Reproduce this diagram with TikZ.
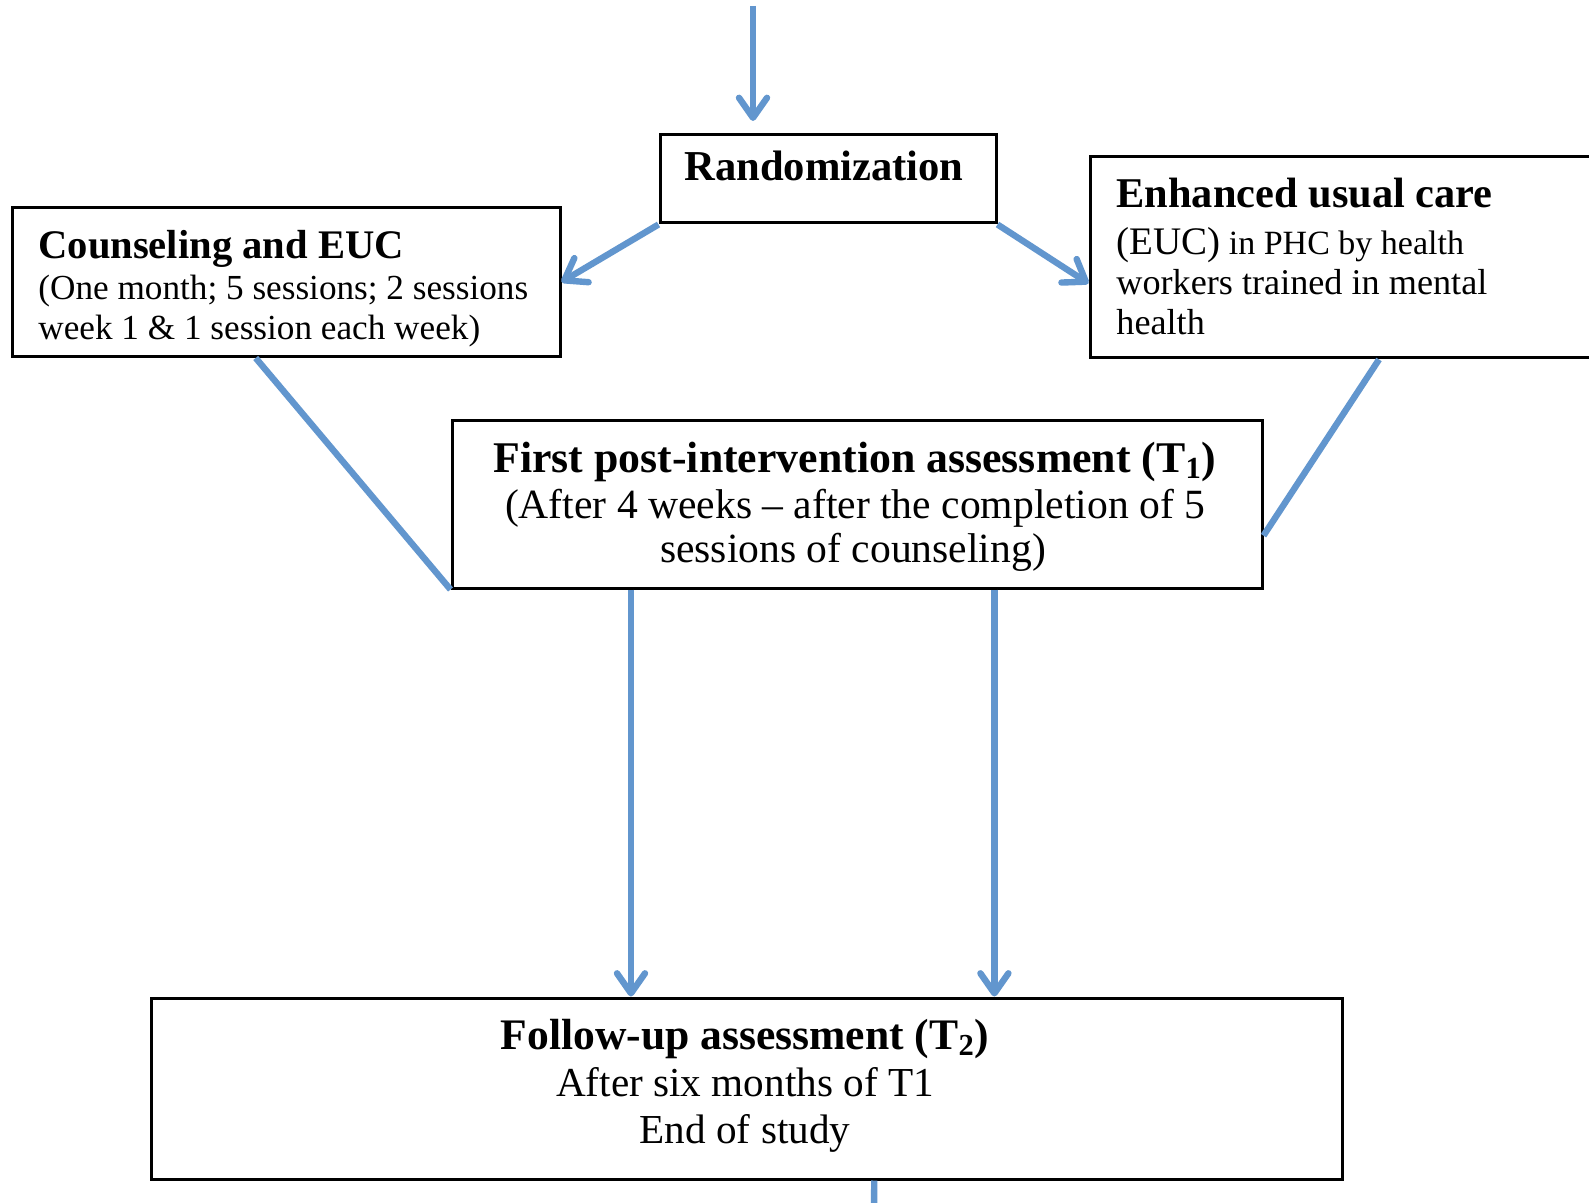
\documentclass[tikz,border=0pt]{standalone}
\usepackage{fontspec}
\setmainfont{Liberation Serif}
\usetikzlibrary{arrows.meta,calc}
\definecolor{conblue}{RGB}{98,150,206}
\begin{document}
\begin{tikzpicture}[x=0.5pt,y=-0.5pt,
  box/.style={draw=black,line width=1.5pt,fill=none,inner sep=0pt,rectangle},
  conn/.style={draw=conblue,line width=3.2pt},
  arr/.style={conn,-{Straight Barb[length=10pt,width=14pt,round]}},
  txt/.style={inner sep=0pt,anchor=base west},
  ctxt/.style={inner sep=0pt,anchor=base}]
\useasboundingbox (0,0) rectangle (1589,1203);
\clip (0,0) rectangle (1589,1203);
\fill[white] (0,0) rectangle (1589,1203);

% boxes
\node[box,minimum width=168pt,minimum height=44pt] (rand) at (828,179) {};
\node[box,minimum width=274pt,minimum height=74.5pt] (couns) at (286,282) {};
\node[box,minimum width=265pt,minimum height=100.5pt] (euc) at (1355,257.5) {};
\node[box,minimum width=405pt,minimum height=84pt] (first) at (857,504) {};
\node[box,minimum width=595.5pt,minimum height=90.5pt] (follow) at (746.5,1088.5) {};

% texts
\node[ctxt,font=\fontsize{21.3}{24}\bfseries\selectfont] (randT) at (824,181) {Randomization};

\node[txt,font=\fontsize{20.3}{24}\bfseries\selectfont] (counsT) at (38,259) {Counseling and EUC};
\node[txt,font=\fontsize{17.6}{20}\selectfont] (counsA) at (38,300) {(One month; 5 sessions; 2 sessions};
\node[txt,font=\fontsize{17.6}{20}\selectfont] (counsB) at (38,340) {week 1 \& 1 session each week)};

\node[txt,font=\fontsize{21.2}{24}\bfseries\selectfont] (eucT) at (1116,208) {Enhanced usual care};
\node[txt,font=\fontsize{17}{20}\selectfont] (eucA) at (1116,255) {{\fontsize{19.5}{22}\selectfont (EUC)} in PHC by health};
\node[txt,font=\fontsize{18.1}{20}\selectfont] (eucB) at (1116,295) {workers trained in mental};
\node[txt,font=\fontsize{18.1}{20}\selectfont] (eucC) at (1116,335) {health};

\node[ctxt,font=\fontsize{21.9}{24}\bfseries\selectfont] (firstT) at (855,472) {First post-intervention assessment (T\textsubscript{1})};
\node[ctxt,font=\fontsize{20.8}{24}\selectfont] (firstA) at (855,518) {(After 4 weeks -- after the completion of 5};
\node[ctxt,font=\fontsize{20.8}{24}\selectfont] (firstB) at (853,562) {sessions of counseling)};

\node[ctxt,font=\fontsize{21.8}{24}\bfseries\selectfont] (followT) at (745,1049) {Follow-up assessment (T\textsubscript{2})};
\node[ctxt,font=\fontsize{20.6}{24}\selectfont] (followA) at (745,1096) {After six months of T1};
\node[ctxt,font=\fontsize{20.6}{24}\selectfont] (followB) at (745,1143) {End of study};

% connectors
\coordinate (topS) at (753,6);
\coordinate (topE) at (753,121);
\draw[arr] (topS) -- (topE);
\draw[arr] (rand.south west) -- (couns.east);
\draw[arr] (rand.south east) -- ($(euc.north west)!0.627!(euc.south west)$);
\draw[conn] ($(couns.south west)!0.445!(couns.south east)$) -- (first.south west);
\draw[conn] ($(euc.south west)!0.545!(euc.south east)$) -- ($(first.north east)!0.685!(first.south east)$);
\coordinate (f1) at ($(first.south west)!0.222!(first.south east)$);
\coordinate (f2) at ($(first.south west)!0.669!(first.south east)$);
\draw[arr] (f1) -- (f1 |- follow.north);
\draw[arr] (f2) -- (f2 |- follow.north);
\coordinate (bt) at ($(follow.south west)!0.607!(follow.south east)$);
\coordinate (bend) at (874,1215);
\draw[conn] (bt) -- (bend);
\end{tikzpicture}
\end{document}
